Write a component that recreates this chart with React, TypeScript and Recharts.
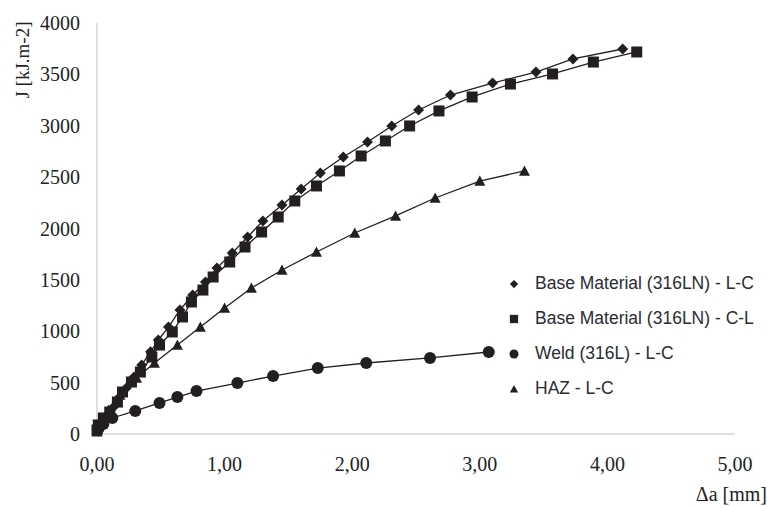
import React from 'react';
import { ScatterChart, Scatter, XAxis, YAxis, Legend } from 'recharts';

// Δa [mm] and J [kJ.m-2], one pair of arrays per specimen
const baseLcDa = [0.01, 0.02, 0.04, 0.08, 0.13, 0.17, 0.23, 0.29, 0.35, 0.42, 0.48, 0.56, 0.65, 0.75, 0.85, 0.94, 1.06, 1.18, 1.30, 1.45, 1.60, 1.75, 1.93, 2.12, 2.31, 2.52, 2.77, 3.10, 3.44, 3.73, 4.12];
const baseLcJ = [30, 68, 117, 185, 263, 350, 448, 555, 672, 800, 915, 1041, 1207, 1353, 1479, 1616, 1762, 1917, 2073, 2229, 2384, 2540, 2696, 2842, 2998, 3153, 3299, 3416, 3523, 3650, 3747];

const baseClDa = [0.0, 0.01, 0.05, 0.10, 0.16, 0.20, 0.27, 0.34, 0.43, 0.49, 0.59, 0.67, 0.74, 0.83, 0.91, 1.04, 1.16, 1.29, 1.42, 1.55, 1.72, 1.90, 2.07, 2.26, 2.45, 2.68, 2.94, 3.24, 3.57, 3.89, 4.23];
const baseClJ = [39, 88, 156, 214, 311, 409, 506, 603, 749, 866, 993, 1139, 1285, 1401, 1528, 1674, 1820, 1966, 2112, 2268, 2414, 2560, 2706, 2852, 2998, 3144, 3280, 3406, 3504, 3620, 3718];

const weldDa = [0.01, 0.05, 0.12, 0.30, 0.49, 0.63, 0.78, 1.10, 1.38, 1.73, 2.11, 2.61, 3.07];
const weldJ = [49, 97, 156, 224, 302, 360, 418, 496, 564, 642, 691, 740, 798];

const hazDa = [0.0, 0.02, 0.09, 0.18, 0.31, 0.45, 0.63, 0.81, 1.00, 1.21, 1.45, 1.72, 2.02, 2.34, 2.65, 3.00, 3.35];
const hazJ = [20, 88, 234, 380, 545, 691, 866, 1041, 1226, 1421, 1596, 1771, 1956, 2122, 2297, 2462, 2560];

const xTicks = [0, 1, 2, 3, 4, 5];
const yTicks = [0, 500, 1000, 1500, 2000, 2500, 3000, 3500, 4000];

const seriesNames = [
  'Base Material (316LN) - L-C',
  'Base Material (316LN) - C-L',
  'Weld (316L) - L-C',
  'HAZ - L-C',
];
const markerKinds = ['diamond', 'square', 'circle', 'triangle'];

const toPoints = (xs: number[], ys: number[]) => xs.map((x, i) => ({ x, y: ys[i] }));

const INK = '#231f20';

const Marker = ({ kind, cx, cy, s = 1 }: { kind: string; cx: number; cy: number; s?: number }) => {
  if (cx == null || cy == null) return null;
  switch (kind) {
    case 'diamond': {
      const r = 5.5 * s;
      return <polygon points={`${cx},${cy - r} ${cx + r},${cy} ${cx},${cy + r} ${cx - r},${cy}`} fill={INK} />;
    }
    case 'square': {
      const h = 5.5 * s;
      return <rect x={cx - h} y={cy - h} width={2 * h} height={2 * h} fill={INK} />;
    }
    case 'circle':
      return <circle cx={cx} cy={cy} r={6 * s} fill={INK} />;
    default: {
      const h = 5.5 * s;
      return <polygon points={`${cx},${cy - h} ${cx + h},${cy + h * 0.85} ${cx - h},${cy + h * 0.85}`} fill={INK} />;
    }
  }
};

const LegendBox = () => (
  <div style={{ fontFamily: '"Liberation Sans", Arial, sans-serif', fontSize: 17.5, color: '#2b2b33' }}>
    {seriesNames.map((name, i) => (
      <div key={name} style={{ display: 'flex', alignItems: 'center', height: 35, whiteSpace: 'nowrap' }}>
        <svg width={18} height={18} style={{ marginRight: 12 }}>
          <Marker kind={markerKinds[i]} cx={9} cy={9} s={0.75} />
        </svg>
        <span>{name}</span>
      </div>
    ))}
  </div>
);

const YTitle = ({ viewBox }: any) => {
  const x = viewBox.x + 22;
  const y = viewBox.y + 37;
  return (
    <text x={x} y={y} transform={`rotate(-90, ${x}, ${y})`} textAnchor="middle" dominantBaseline="central"
      style={{ fontFamily: '"Liberation Serif", serif', fontSize: 19, fill: '#222' }}>
      J [kJ.m-2]
    </text>
  );
};

const XTitle = ({ viewBox }: any) => {
  const x = viewBox.x + viewBox.width + 32;
  const y = viewBox.y + 60;
  return (
    <text x={x} y={y} textAnchor="end" dominantBaseline="central"
      style={{ fontFamily: '"Liberation Serif", serif', fontSize: 20, fill: '#222' }}>
      Δa [mm]
    </text>
  );
};

const App = () => {
  const series = [
    toPoints(baseLcDa, baseLcJ),
    toPoints(baseClDa, baseClJ),
    toPoints(weldDa, weldJ),
    toPoints(hazDa, hazJ),
  ];
  const tickStyle = { fontFamily: '"Liberation Serif", serif', fontSize: 20, fill: '#222' };

  return (
    <div style={{ position: 'absolute', left: 0, top: 0, background: '#fff' }}>
      <ScatterChart width={769} height={507} margin={{ top: 23, right: 34, bottom: 0, left: 0 }}>
        <XAxis
          type="number"
          dataKey="x"
          domain={[0, 5]}
          ticks={xTicks}
          tickFormatter={(v: number) => v.toFixed(2).replace('.', ',')}
          tick={tickStyle}
          tickLine={false}
          tickSize={0}
          tickMargin={23}
          height={73}
          axisLine={{ stroke: '#d4d4d4', strokeWidth: 1.5 }}
          label={<XTitle />}
        />
        <YAxis
          type="number"
          dataKey="y"
          domain={[0, 4000]}
          ticks={yTicks}
          tick={tickStyle}
          tickLine={false}
          tickSize={0}
          tickMargin={17}
          width={97}
          axisLine={{ stroke: '#d4d4d4', strokeWidth: 1.5 }}
          label={<YTitle />}
        />
        <Legend
          layout="horizontal"
          verticalAlign="middle"
          align="center"
          wrapperStyle={{ position: 'absolute', left: 505, top: 266, width: 264 }}
          content={() => <LegendBox />}
        />
        {series.map((data, i) => (
          <Scatter
            key={seriesNames[i]}
            name={seriesNames[i]}
            data={data}
            line={{ stroke: INK, strokeWidth: 1.3 }}
            shape={(p: any) => <Marker kind={markerKinds[i]} cx={p.cx} cy={p.cy} />}
            isAnimationActive={false}
          />
        ))}
      </ScatterChart>
    </div>
  );
};

export default App;
